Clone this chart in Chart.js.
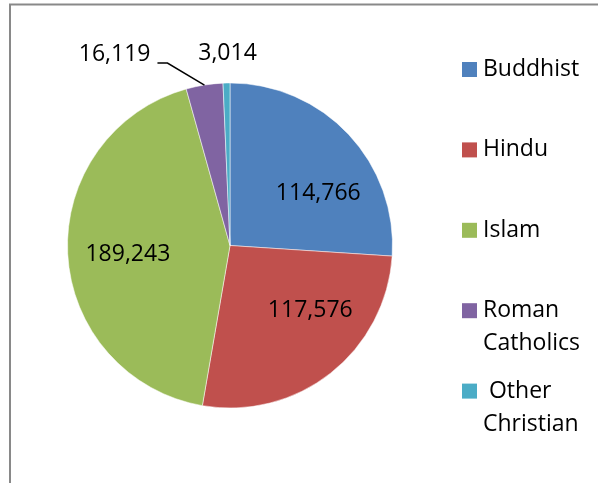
<!DOCTYPE html>
<html>
<head>
<meta charset="utf-8">
<script src="https://cdn.jsdelivr.net/npm/chart.js@4.4.1/dist/chart.umd.min.js"></script>
<style>
  html, body { margin: 0; padding: 0; background: #fff; }
  canvas { display: block; }
</style>
</head>
<body>
<canvas id="religionPie" width="598" height="483"></canvas>
<script>
// Данные
const religions = ['Buddhist', 'Hindu', 'Islam', 'Roman Catholics', 'Other Christian'];
const legendLines = [['Buddhist'], ['Hindu'], ['Islam'], ['Roman', 'Catholics'], [' Other', 'Christian']];
const followers = [114766, 117576, 189243, 16119, 3014];
const sliceColors = ['#4F81BD', '#C0504D', '#9BBB59', '#8064A2', '#4BACC6'];

const FONT = '"Open Sans", "Liberation Sans", sans-serif';
const fmt = v => v.toLocaleString('en-US');

// сдвиг подписей внутри секторов (от центральной точки дуги)
const insideShift = [[29, 3], [30, 1], [-21, 5]];

// рамка вокруг диаграммы
const framePlugin = {
  id: 'frame',
  beforeDraw(chart) {
    const ctx = chart.ctx;
    ctx.save();
    ctx.fillStyle = '#fff';
    ctx.fillRect(0, 0, chart.width, chart.height);
    ctx.strokeStyle = '#898989';
    ctx.lineWidth = 2;
    ctx.beginPath();
    ctx.moveTo(10, chart.height + 5);
    ctx.lineTo(10, 4.5);
    ctx.lineTo(chart.width + 5, 4.5);
    ctx.stroke();
    ctx.restore();
  }
};

// подписи значений
const valueLabels = {
  id: 'valueLabels',
  afterDatasetsDraw(chart) {
    const ctx = chart.ctx;
    const meta = chart.getDatasetMeta(0);
    const values = chart.data.datasets[0].data;
    ctx.save();
    ctx.font = '23px ' + FONT;
    ctx.fillStyle = '#000';
    ctx.textBaseline = 'middle';
    meta.data.forEach((arc, i) => {
      const p = arc.getProps(['x', 'y', 'startAngle', 'endAngle', 'outerRadius'], true);
      const mid = (p.startAngle + p.endAngle) / 2;
      const ox = p.x + Math.cos(mid) * p.outerRadius;
      const oy = p.y + Math.sin(mid) * p.outerRadius;
      const text = fmt(values[i]);
      if (i < 3) {
        const c = arc.getCenterPoint();
        ctx.textAlign = 'center';
        ctx.fillText(text, c.x + insideShift[i][0], c.y + insideShift[i][1]);
      } else if (i === 3) {
        // выноска
        const ex = ox - 37, ey = oy - 22;
        ctx.strokeStyle = '#000';
        ctx.lineWidth = 1.5;
        ctx.beginPath();
        ctx.moveTo(ox, oy);
        ctx.lineTo(ex, ey);
        ctx.lineTo(ex - 10, ey);
        ctx.stroke();
        ctx.textAlign = 'right';
        ctx.fillText(text, ex - 17, ey - 9);
      } else {
        ctx.textAlign = 'center';
        ctx.fillText(text, ox + 1, oy - 30);
      }
    });
    ctx.restore();
  }
};

// легенда справа
const sideLegend = {
  id: 'sideLegend',
  afterDraw(chart) {
    const ctx = chart.ctx;
    const colors = chart.data.datasets[0].backgroundColor;
    ctx.save();
    ctx.font = '23px ' + FONT;
    ctx.textBaseline = 'middle';
    ctx.textAlign = 'left';
    legendLines.forEach((lines, i) => {
      const y = 69.5 + i * 80.4;
      ctx.fillStyle = colors[i];
      ctx.fillRect(462, y - 7.5, 15, 15);
      ctx.fillStyle = '#000';
      lines.forEach((line, k) => {
        ctx.fillText(line, 483, y + k * 33);
      });
    });
    ctx.restore();
  }
};

new Chart('religionPie', {
  type: 'pie',
  data: {
    labels: religions,
    datasets: [{
      data: followers,
      backgroundColor: sliceColors,
      borderColor: 'rgba(255,255,255,0.5)',
      borderWidth: 1
    }]
  },
  options: {
    responsive: false,
    animation: false,
    layout: {
      padding: { left: 67, right: 205, top: 82, bottom: 74 }
    },
    plugins: {
      legend: { display: false },
      tooltip: { enabled: false }
    }
  },
  plugins: [framePlugin, valueLabels, sideLegend]
});
</script>
</body>
</html>
